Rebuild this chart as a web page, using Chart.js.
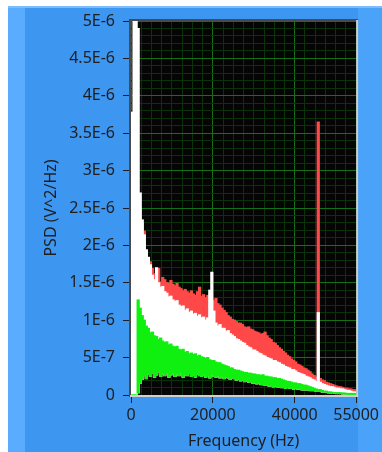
<!DOCTYPE html>
<html>
<head>
<meta charset="utf-8">
<script src="https://cdn.jsdelivr.net/npm/chart.js@4"></script>
<style>
  html, body { margin: 0; padding: 0; background: #ffffff; }
  canvas { display: block; }
</style>
</head>
<body>
<canvas id="psdChart" width="382" height="452"></canvas>
<script>
// spectrum is binned every 500 Hz, first bin starts at 0 Hz
const binWidthHz = 500;

// per-bin envelopes of each trace, in units of 1e-7 V^2/Hz
const redMax = [
    0, 0, 0, 14, 25, 23.0, 21.9, 19.0, 18.2, 17.8,
    16.9, 16.2, 16.6, 16.9, 15.1, 15.7, 15.4, 15.0, 14.9, 15.3,
    14.8, 14.6, 14.9, 14.4, 14.2, 13.9, 14.1, 13.8, 13.6, 13.9,
    13.5, 13.3, 13.8, 14.4, 13.2, 13.4, 13.0, 13.3, 13.1, 12.8,
    12.6, 12.9, 12.2, 12.0, 11.6, 11.3, 11.0, 10.6, 10.4, 10.1,
    10.0, 9.8, 9.6, 9.6, 9.4, 9.1, 9.0, 9.1, 8.8, 8.7,
    8.5, 8.4, 8.3, 8.1, 8.2, 8.4, 7.9, 7.6, 7.4, 7.0,
    6.9, 6.6, 6.3, 6.1, 5.8, 5.6, 5.3, 5.1, 4.8, 4.6,
    4.4, 4.1, 4.0, 3.8, 3.6, 3.5, 3.3, 3.1, 2.8, 2.6,
    2.4, 36.5, 2.2, 2.0, 1.9, 1.7, 1.6, 1.5, 1.4, 1.3,
    1.2, 1.1, 1.1, 1.0, 0.9, 0.9, 0.8, 0.8, 0.7, 0.7
];
const whiteMax = [
    37.8, 80, 80, 49, 27, 23.4, 21.4, 19.4, 18.4, 17.4,
    16.0, 15.4, 17.0, 15.0, 14.4, 14.5, 13.8, 13.6, 13.1, 13.2,
    12.7, 12.5, 12.6, 12.0, 11.8, 11.9, 11.3, 11.5, 11.0, 11.2,
    10.8, 10.9, 10.5, 10.7, 10.3, 10.4, 10.0, 10.3, 14.0, 16.4,
    11.2, 9.6, 9.2, 9.4, 8.9, 8.9, 8.5, 8.6, 8.2, 8.0,
    7.8, 7.5, 7.4, 7.2, 7.0, 6.9, 6.6, 6.4, 6.3, 6.0,
    6.0, 5.8, 5.6, 5.5, 5.3, 5.2, 5.0, 4.9, 4.8, 4.6,
    4.6, 4.4, 4.3, 4.1, 4.0, 3.8, 3.7, 3.6, 3.4, 3.4,
    3.2, 3.0, 2.9, 2.8, 2.7, 2.5, 2.4, 2.3, 2.1, 2.0,
    1.8, 11.0, 1.7, 1.5, 1.4, 1.3, 1.2, 1.1, 1.1, 1.0,
    0.9, 0.9, 0.8, 0.8, 0.7, 0.6, 0.6, 0.5, 0.4, 0.4
];
const greenMax = [
    0, 0, 0, 12.7, 11.6, 10.6, 10.0, 9.2, 8.9, 8.3,
    8.4, 7.9, 7.8, 7.4, 7.6, 7.2, 7.0, 7.1, 6.7, 6.8,
    6.5, 6.4, 6.5, 6.1, 6.0, 6.1, 5.7, 5.8, 5.5, 5.6,
    5.4, 5.5, 5.2, 5.3, 5.1, 5.0, 4.9, 5.0, 4.7, 4.6,
    4.6, 4.4, 4.3, 4.3, 4.1, 4.0, 3.9, 3.8, 3.6, 3.6,
    3.4, 3.3, 3.3, 3.2, 3.1, 3.0, 3.0, 2.9, 2.9, 2.8,
    2.8, 2.7, 2.7, 2.6, 2.7, 2.5, 2.5, 2.4, 2.4, 2.3,
    2.3, 2.2, 2.2, 2.1, 2.0, 1.9, 1.8, 1.8, 1.7, 1.6,
    1.6, 1.5, 1.5, 1.4, 1.3, 1.3, 1.2, 1.1, 1.0, 0.9,
    0.8, 0.7, 0.7, 0.6, 0.5, 0.5, 0.4, 0.4, 0.35, 0.3,
    0.3, 0.3, 0.3, 0.25, 0.25, 0.2, 0.2, 0.2, 0.2, 0.2
];
// lowest value in each bin, shared floor of the three traces
const greenMin = [
    0, 0, 0, 0.3, 1.6, 2.1, 2.6, 2.2, 2.8, 2.5,
    2.9, 2.4, 2.7, 3.1, 2.5, 2.8, 2.6, 3.0, 2.4, 2.7,
    2.9, 2.5, 2.8, 2.6, 3.0, 2.4, 2.7, 2.6, 2.9, 2.5,
    2.7, 2.4, 2.8, 2.6, 2.5, 2.7, 2.4, 2.6, 2.3, 2.7,
    2.5, 2.4, 2.6, 2.3, 2.5, 2.2, 2.4, 2.3, 2.1, 2.3,
    2.2, 2.0, 2.1, 1.9, 2.0, 1.8, 1.9, 1.7, 1.8, 1.6,
    1.6, 1.5, 1.6, 1.4, 1.4, 1.3, 1.4, 1.2, 1.3, 1.1,
    1.2, 1.1, 1.1, 1.0, 1.0, 0.9, 1.0, 0.9, 0.9, 0.8,
    0.9, 0.8, 0.8, 0.7, 0.7, 0.7, 0.7, 0.6, 0.6, 0.6,
    0.5, 0.5, 0.5, 0.4, 0.4, 0.4, 0.3, 0.3, 0.3, 0.25,
    0.2, 0.2, 0.2, 0.15, 0.15, 0.1, 0.1, 0.1, 0.1, 0.1
];

const xTickLabels = [0, 20000, 40000, 55000];
const yTickLabels = ["0", "5E-7", "1E-6", "1.5E-6", "2E-6", "2.5E-6",
    "3E-6", "3.5E-6", "4E-6", "4.5E-6", "5E-6"];

const PSD_UNIT = 1e-7;
const MINOR_PER_MAJOR = 5;

const binCenters = redMax.map((v, i) => i * binWidthHz + binWidthHz / 2);

function traceBars(tops, color, order) {
    return {
        data: tops.map((top, i) => [greenMin[i] * PSD_UNIT, top * PSD_UNIT]),
        backgroundColor: color,
        borderWidth: 0,
        barPercentage: 1,
        categoryPercentage: 1,
        inflateAmount: 0.6,
        grouped: false,
        order: order
    };
}

function yStep(value) {
    return Math.round(value / PSD_UNIT);
}

const gridMinor = "#0a330a";
const gridMajor = "#157015";
const tickDark = "#1e1e1e";

// blue panel behind the graph, black plot area and its bevel frame
const panelBackground = {
    id: "panelBackground",
    beforeDraw(chart) {
        const {ctx, chartArea, width, height} = chart;
        ctx.save();
        ctx.fillStyle = "#ffffff";
        ctx.fillRect(0, 0, width, height);
        ctx.fillStyle = "#3d96f0";
        ctx.fillRect(8, 6, width - 8, height - 6);
        ctx.fillStyle = "#5aacff";
        ctx.fillRect(8, 6, 17, height - 6);
        ctx.fillStyle = "#4ba2f9";
        ctx.fillRect(chartArea.right + 2, 6, width - chartArea.right - 2, height - 6);
        ctx.fillStyle = "#7cbdff";
        ctx.fillRect(8, 6, width - 8, 2);
        ctx.fillStyle = "#050505";
        ctx.fillRect(chartArea.left, chartArea.top,
            chartArea.right - chartArea.left, chartArea.bottom - chartArea.top);
        ctx.restore();
    },
    afterDatasetsDraw(chart) {
        const {ctx, chartArea} = chart;
        const {left, top, right, bottom} = chartArea;
        ctx.save();
        ctx.fillStyle = "#4a4a4a";
        ctx.fillRect(left - 2, top - 2, right - left + 4, 2);
        ctx.fillRect(left - 2, top - 2, 2, bottom - top + 4);
        ctx.fillStyle = "#cfcfcf";
        ctx.fillRect(right, top - 1, 2, bottom - top + 3);
        ctx.fillRect(left - 1, bottom, right - left + 3, 2);
        ctx.restore();
    }
};

Chart.defaults.font.family = "'Noto Sans', sans-serif";
Chart.defaults.font.size = 16;
Chart.defaults.color = tickDark;

new Chart("psdChart", {
    type: "bar",
    data: {
        labels: binCenters,
        datasets: [
            traceBars(greenMax, "#10f010", 0),
            traceBars(whiteMax, "#ffffff", 1),
            traceBars(redMax, "#ff4848", 2)
        ]
    },
    options: {
        responsive: false,
        animation: false,
        events: [],
        layout: {
            padding: {top: 21, right: 25, bottom: 0, left: 0}
        },
        plugins: {
            legend: {display: false},
            tooltip: {enabled: false}
        },
        scales: {
            x: {
                type: "linear",
                min: 0,
                max: 55000,
                offset: false,
                afterFit: scale => { scale.height = 57; },
                border: {display: false},
                grid: {
                    offset: false,
                    color: ctx => xTickLabels.includes(ctx.tick.value) ? gridMajor : gridMinor,
                    tickColor: ctx => xTickLabels.includes(ctx.tick.value) ? tickDark : "transparent",
                    tickLength: 8
                },
                ticks: {
                    stepSize: 2500,
                    autoSkip: false,
                    maxRotation: 0,
                    minRotation: 0,
                    padding: 3,
                    callback: value => xTickLabels.includes(value) ? String(value) : ""
                },
                title: {
                    display: true,
                    text: "Frequency (Hz)",
                    padding: {top: 2, bottom: 1}
                }
            },
            y: {
                min: 0,
                max: 5e-6,
                afterFit: scale => { scale.width = 131; },
                border: {display: false},
                grid: {
                    color: ctx => yStep(ctx.tick.value) % MINOR_PER_MAJOR === 0 ? gridMajor : gridMinor,
                    tickColor: ctx => yStep(ctx.tick.value) % MINOR_PER_MAJOR === 0 ? tickDark : "transparent",
                    tickLength: 8
                },
                ticks: {
                    stepSize: PSD_UNIT,
                    autoSkip: false,
                    padding: 8,
                    callback: value => {
                        const n = yStep(value);
                        return n % MINOR_PER_MAJOR === 0 ? yTickLabels[n / MINOR_PER_MAJOR] : "";
                    }
                },
                title: {
                    display: true,
                    text: "PSD (V^2/Hz)",
                    padding: {top: 42, bottom: 0}
                }
            }
        }
    },
    plugins: [panelBackground]
});
</script>
</body>
</html>
